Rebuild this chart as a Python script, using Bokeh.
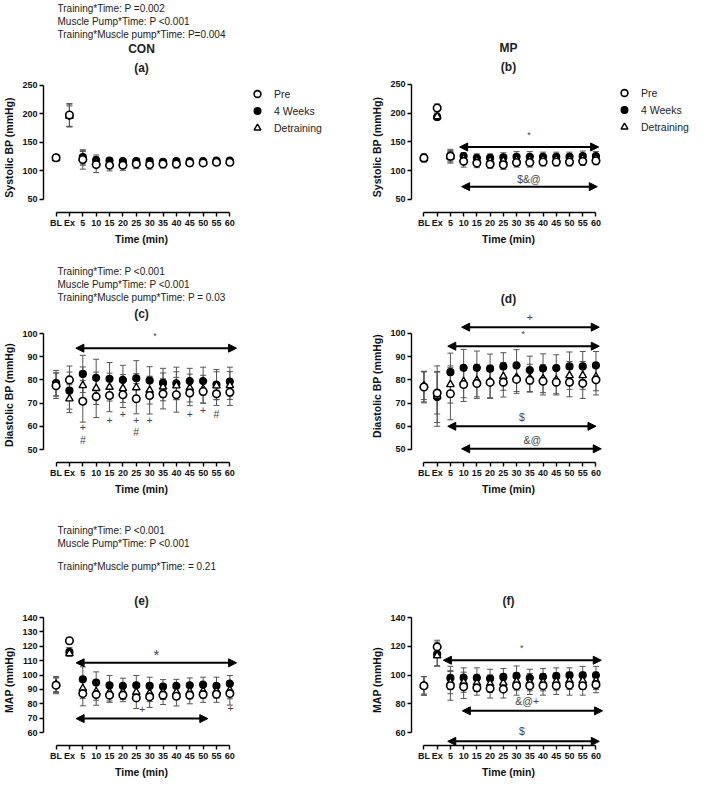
from bokeh.plotting import figure
from bokeh.layouts import column, row
from bokeh.models import FixedTicker, Range1d, Title, Legend, LegendItem, Arrow, NormalHead
from bokeh.core.properties import value
from bokeh.embed import file_html
from bokeh.resources import INLINE

FONT = "Liberation Sans"

categories = ["BL", "Ex", "5", "10", "15", "20", "25", "30", "35", "40", "45", "50", "55", "60"]
series_names = ["Pre", "4 Weeks", "Detraining"]

# ---- (a) CON systolic
a_pre = [123, 198, 120, 111, 110, 110, 112, 111, 112, 112, 114, 114, 115, 115]
a_4wk = [123, 197, 124, 119, 118, 117, 117, 117, 116, 117, 117, 117, 118, 118]
a_det = [122, 196, 122, 115, 113, 113, 114, 113, 113, 114, 115, 115, 116, 116]
a_pre_sd = [5, 20, 17, 14, 10, 9, 8, 8, 7, 7, 6, 5, 5, 5]
a_4wk_sd = [4, 20, 12, 9, 5, 4, 4, 4, 4, 4, 4, 4, 4, 4]
a_det_sd = [4, 18, 12, 8, 6, 5, 5, 5, 5, 5, 5, 4, 4, 4]

# ---- (b) MP systolic
b_pre = [122, 209, 125, 116, 113, 111, 110, 114, 114, 115, 115, 115, 116, 117]
b_4wk = [122, 193, 126, 125, 122, 122, 123, 124, 124, 124, 124, 124, 125, 125]
b_det = [121, 194, 124, 121, 118, 117, 117, 119, 119, 120, 120, 120, 121, 121]
b_pre_sd = [7, 7, 12, 10, 8, 7, 8, 8, 8, 7, 7, 7, 7, 7]
b_4wk_sd = [6, 5, 9, 6, 7, 7, 8, 9, 9, 8, 8, 8, 9, 8]
b_det_sd = [6, 5, 9, 7, 7, 7, 7, 7, 7, 7, 7, 7, 7, 7]

# ---- (c) CON diastolic
c_pre = [77.5, 80, 70.8, 72.8, 73.3, 73.6, 71.9, 73.3, 74, 73.6, 74.4, 75, 74, 74.7]
c_4wk = [78.6, 75.4, 82.6, 80.9, 80.5, 80, 80.7, 79.7, 78.7, 78.5, 79.5, 79.5, 78, 79.3]
c_det = [78, 71.9, 77.6, 76.4, 76.9, 76.3, 76.7, 75.6, 77, 77.5, 76.5, 76, 77.5, 77.6]
c_pre_sd = [5.5, 6, 9, 9, 7, 5.5, 6.5, 8, 6.5, 7.5, 5.5, 5, 5, 5.7]
c_4wk_sd = [5.5, 8, 8, 8, 7, 6.3, 7.6, 6, 6.3, 7, 5.5, 6, 6.5, 6.2]
c_det_sd = [5, 6, 8, 7, 6, 6, 6, 6, 6, 6, 6, 6, 6, 6]

# ---- (d) MP diastolic
d_pre = [76.9, 74.3, 74, 78, 78.4, 78.9, 79, 80.2, 79.8, 79.4, 79, 79, 78.5, 80]
d_4wk = [77, 72.6, 83.3, 85.2, 85.2, 84.8, 85.8, 86.2, 84.2, 84.9, 85.1, 85.8, 85.8, 86.2]
d_det = [77.5, 73, 78, 79.3, 79.7, 79.3, 81.5, 81, 80.7, 80.5, 80, 81.9, 81.9, 81.3]
d_pre_sd = [6.8, 9, 11.2, 7.3, 6.4, 6.9, 6.4, 6, 4.8, 5.9, 5.5, 6.3, 6.5, 6.5]
d_4wk_sd = [6.5, 11, 8.2, 7.9, 7.2, 6.3, 5.9, 6.8, 6, 6.3, 5.7, 6.2, 6.4, 6]
d_det_sd = [6, 13, 8, 7, 7, 7, 6, 6, 6, 6, 6, 6, 6, 6]

# ---- (e) CON MAP
e_pre = [92.9, 123.8, 87.1, 86.4, 86, 86, 84.1, 84.8, 86, 85.3, 86, 86.4, 86.6, 87.1]
e_4wk = [93, 116.1, 97, 94.8, 92.9, 92.4, 92.9, 92.4, 92, 92.4, 92.9, 93.3, 92.4, 94]
e_det = [93.5, 115, 90.6, 88.5, 88, 88, 88, 87.5, 88, 88, 88.5, 89, 89, 89.5]
e_pre_sd = [5, 2, 8.5, 7.4, 5, 4.5, 7.4, 7.3, 6.5, 6.8, 6, 5.4, 5.6, 8]
e_4wk_sd = [6, 3, 8.7, 7.4, 6.8, 5.4, 6.8, 6.1, 4.8, 4.6, 5.1, 5.2, 6.1, 5.7]
e_det_sd = [5, 2, 7, 6, 6, 5, 6, 6, 5, 5, 5, 5, 5, 6]

# ---- (f) MP MAP
f_pre = [92.5, 119.6, 92.5, 91.8, 91.1, 90.7, 90.2, 92.5, 92.5, 92.5, 92.5, 93, 92.5, 93.3]
f_4wk = [92.5, 114.5, 98, 98.2, 98, 97.6, 98.7, 99.4, 98, 98.7, 99.2, 99.8, 99.8, 99.8]
f_det = [92.8, 113.5, 95, 95, 94.5, 94, 94.5, 95.5, 95, 95, 95.5, 96, 96, 96]
f_pre_sd = [6.5, 4.6, 10, 8.1, 5.1, 6.7, 6.2, 6.5, 6, 6.5, 6, 7, 6.5, 5.6]
f_4wk_sd = [6.5, 8.4, 8.1, 6.8, 7, 6.4, 5.8, 6.9, 6, 5.8, 5.8, 5.2, 6.2, 6.2]
f_det_sd = [6, 7, 8, 7, 6, 6, 6, 6, 6, 6, 6, 6, 6, 6]

# ---- significance spans (start index, end index, level) and symbols
b_span_start = [2.7, 2.85]
b_span_end = [13.2, 13.1]
b_span_level = [141, 72]
b_sym_x = [7.94, 7.94]
b_sym_y = [162, 85]
b_sym_text = ["*", "$&@"]

c_span_start = [1.48]
c_span_end = [13.5]
c_span_level = [93.7]
c_sym_x = [7.4, 2, 2, 4, 5, 6, 6, 7, 10, 11, 12]
c_sym_y = [99.1, 59.5, 54.3, 62.8, 65.4, 62.8, 57.5, 62.8, 65.4, 67.1, 65.1]
c_sym_text = ["*", "+", "#", "+", "+", "+", "#", "+", "+", "+", "#"]

d_span_start = [2.85, 1.8, 1.8, 2.85]
d_span_end = [13.25, 13.25, 13.0, 13.4]
d_span_level = [102.7, 94.5, 60, 50.3]
d_sym_x = [8.0, 7.5, 7.4, 8.2]
d_sym_y = [107, 99.9, 64.2, 54.2]
d_sym_text = ["+", "*", "$", "&@"]

e_span_start = [1.5, 1.5]
e_span_end = [13.5, 11.35]
e_span_level = [108.5, 69.7]
e_sym_x = [7.5, 6.45, 13.05]
e_sym_y = [114.3, 76.7, 77.4]
e_sym_text = ["*", "+", "+"]

f_span_start = [1.47, 2.9, 1.8]
f_span_end = [13.4, 13.5, 13.25]
f_span_level = [110.3, 75.1, 53.9]
f_sym_x = [7.4, 7.8, 7.4]
f_sym_y = [118.9, 81.8, 60.9]
f_sym_text = ["*", "&@+", "$"]

ab_yticks = [50, 100, 150, 200, 250]
cd_yticks = [50, 60, 70, 80, 90, 100]
e_yticks = [60, 70, 80, 90, 100, 110, 120, 130, 140]
f_yticks = [60, 80, 100, 120, 140]

xs = list(range(len(categories)))
X_RANGE = (-0.94, 13.72)
FRAME_W = 203


def style_series(p, xs_, pre, wk, det, visible=True):
    r_wk = p.scatter(x=xs_, y=wk, marker="circle", size=7, fill_color="black",
                     line_color="black", line_width=1.2, visible=visible)
    r_det = p.scatter(x=xs_, y=det, marker="triangle", size=7.5, fill_color="white",
                      line_color="black", line_width=1.4, visible=visible)
    r_pre = p.scatter(x=xs_, y=pre, marker="circle", size=7.5, fill_color="white",
                      line_color="black", line_width=1.6, visible=visible)
    return r_pre, r_wk, r_det


def make_panel(bl, width, height, bt, bb, yr, yticks, ylabel, means, sds,
               spans, syms, titles, star_big=False):
    p = figure(width=width, height=height, output_backend="svg",
               toolbar_location=None,
               x_range=Range1d(*X_RANGE), y_range=Range1d(*yr),
               min_border_left=bl, min_border_right=width - bl - FRAME_W,
               min_border_top=bt, min_border_bottom=bb,
               background_fill_color="white", border_fill_color="white")
    p.outline_line_color = None
    p.xgrid.visible = False
    p.ygrid.visible = False
    for ax in (p.xaxis[0], p.yaxis[0]):
        ax.axis_line_color = "black"
        ax.axis_line_width = 1.4
        ax.major_tick_line_color = "black"
        ax.major_tick_line_width = 1.4
        ax.major_tick_out = 4
        ax.major_tick_in = 0
        ax.minor_tick_line_color = None
        ax.major_label_text_font = FONT
        ax.major_label_text_font_style = "bold"
        ax.major_label_text_font_size = "9px"
        ax.major_label_text_color = "#111"
        ax.axis_label_text_font = FONT
        ax.axis_label_text_font_style = "bold"
        ax.axis_label_text_font_size = "10.5px"
        ax.axis_label_text_color = "#111"
    p.xaxis.ticker = FixedTicker(ticks=xs)
    p.xaxis.major_label_overrides = {i: c for i, c in enumerate(categories)}
    p.xaxis.bounds = (0, len(categories) - 1)
    p.xaxis.major_label_standoff = 1
    p.xaxis.axis_label = "Time (min)"
    p.xaxis.axis_label_standoff = 2
    p.yaxis.ticker = FixedTicker(ticks=yticks)
    p.yaxis.bounds = (yticks[0], yticks[-1])
    p.yaxis.major_label_standoff = 2
    p.yaxis.axis_label = ylabel
    p.yaxis.axis_label_standoff = 4

    for m, s in zip(means, sds):
        lo = [a - b for a, b in zip(m, s)]
        hi = [a + b for a, b in zip(m, s)]
        p.segment(x0=xs, y0=lo, x1=xs, y1=hi, line_color="#555", line_width=1)
        p.scatter(x=xs, y=lo, marker="dash", size=6, line_color="#555", line_width=1)
        p.scatter(x=xs, y=hi, marker="dash", size=6, line_color="#555", line_width=1)

    style_series(p, xs, *means)

    s0, s1, lv = spans
    for a, b, y in zip(s0, s1, lv):
        p.add_layout(Arrow(start=NormalHead(size=8, fill_color="black", line_color="black"),
                           end=NormalHead(size=8, fill_color="black", line_color="black"),
                           x_start=a, y_start=y, x_end=b, y_end=y,
                           line_color="black", line_width=2))
    sx, sy, st = syms
    if sx:
        sizes = []
        for t in st:
            if t == "*" and star_big:
                sizes.append("15px")
            elif t == "*":
                sizes.append("9px")
            else:
                sizes.append("10.5px")
        p.text(x=sx, y=sy, text=st, text_align="center", text_baseline="middle",
               text_font=value(FONT), text_font_size=sizes, text_color="#444")

    for text, size, style, align, offset, standoff, valign in titles:
        p.add_layout(Title(text=text, text_font=FONT, text_font_size=size,
                           text_font_style=style, align=align, offset=offset,
                           standoff=standoff, vertical_align=valign,
                           text_color="#222"), "above")
    return p


def legend_panel(width, height, bt, bb, bl, means):
    # key panel: lists the three series (hidden renderers, only the key is shown)
    q = figure(width=width, height=height, output_backend="svg", toolbar_location=None,
               x_axis_type=None, y_axis_type=None,
               min_border_left=bl, min_border_right=0, min_border_top=bt,
               min_border_bottom=bb, background_fill_color="white",
               border_fill_color="white")
    q.outline_line_color = None
    q.xgrid.visible = False
    q.ygrid.visible = False
    r_pre, r_wk, r_det = style_series(q, xs, *means, visible=False)
    lg = Legend(items=[LegendItem(label=series_names[0], renderers=[r_pre]),
                       LegendItem(label=series_names[1], renderers=[r_wk]),
                       LegendItem(label=series_names[2], renderers=[r_det])],
                location="top_left", margin=0, padding=3, glyph_width=20,
                glyph_height=17, label_height=17, spacing=0, label_standoff=7,
                label_text_font=FONT, label_text_font_size="10.5px",
                label_text_color="#222", inactive_fill_alpha=0,
                border_line_alpha=0, background_fill_alpha=0)
    q.add_layout(lg, "center")
    return q


def ptitle(t, standoff=0, valign="bottom"):
    return (t, "10px", "normal", "left", 14, standoff, valign)


def btitle(t, standoff=0, valign="bottom"):
    return (t, "12px", "bold", "center", 0, standoff, valign)


LW, RW = 368, 325
LBL, RBL = 36, 34
H1, H2, H3 = 250, 250, 283
BB = 38

pa = make_panel(LBL, LBL + FRAME_W, H1, 81, BB, (27, 255), ab_yticks, "Systolic BP (mmHg)",
                [a_pre, a_4wk, a_det], [a_pre_sd, a_4wk_sd, a_det_sd],
                ([], [], []), ([], [], []),
                [btitle("(a)", 11, "top"), btitle("CON"),
                 ptitle("Training*Muscle pump*Time: P=0.004"),
                 ptitle("Muscle Pump*Time: P <0.001"),
                 ptitle("Training*Time: P =0.002")])
la = legend_panel(LW - (LBL + FRAME_W), H1, 80, BB, 5, [a_pre, a_4wk, a_det])
pb = make_panel(RBL, RBL + FRAME_W, H1, 81, BB, (27, 255), ab_yticks, "Systolic BP (mmHg)",
                [b_pre, b_4wk, b_det], [b_pre_sd, b_4wk_sd, b_det_sd],
                (b_span_start, b_span_end, b_span_level), (b_sym_x, b_sym_y, b_sym_text),
                [btitle("(b)", 11, "top"), btitle("MP")])
lb = legend_panel(RW - (RBL + FRAME_W), H1, 80, BB, 6, [b_pre, b_4wk, b_det])
pc = make_panel(LBL, LW, H2, 77, BB, (44.4, 102.6), cd_yticks, "Diastolic BP (mmHg)",
                [c_pre, c_4wk, c_det], [c_pre_sd, c_4wk_sd, c_det_sd],
                (c_span_start, c_span_end, c_span_level), (c_sym_x, c_sym_y, c_sym_text),
                [btitle("(c)", 9, "top"), ptitle("Training*Muscle pump*Time: P = 0.03"),
                 ptitle("Muscle Pump*Time: P <0.001"), ptitle("Training*Time: P <0.001")])
pd_ = make_panel(RBL, RW, H2, 59, BB, (44.4, 110.3), cd_yticks, "Diastolic BP (mmHg)",
                 [d_pre, d_4wk, d_det], [d_pre_sd, d_4wk_sd, d_det_sd],
                 (d_span_start, d_span_end, d_span_level), (d_sym_x, d_sym_y, d_sym_text),
                 [btitle("(d)", 8)])
pe = make_panel(LBL, LW, H3, 114, BB, (51, 142.1), e_yticks, "MAP (mmHg)",
                [e_pre, e_4wk, e_det], [e_pre_sd, e_4wk_sd, e_det_sd],
                (e_span_start, e_span_end, e_span_level), (e_sym_x, e_sym_y, e_sym_text),
                [btitle("(e)", 13), ptitle("Training*Muscle pump*Time: = 0.21", 24, "top"),
                 ptitle("Muscle Pump*Time: P <0.001"), ptitle("Training*Time: P <0.001")],
                star_big=True)
pf = make_panel(RBL, RW, H3, 114, BB, (51, 142.1), f_yticks, "MAP (mmHg)",
                [f_pre, f_4wk, f_det], [f_pre_sd, f_4wk_sd, f_det_sd],
                (f_span_start, f_span_end, f_span_level), (f_sym_x, f_sym_y, f_sym_text),
                [btitle("(f)", 13)])

p = row(column(row(pa, la), pc, pe), column(row(pb, lb), pd_, pf))

open("out.html", "w").write(file_html(p, INLINE))
